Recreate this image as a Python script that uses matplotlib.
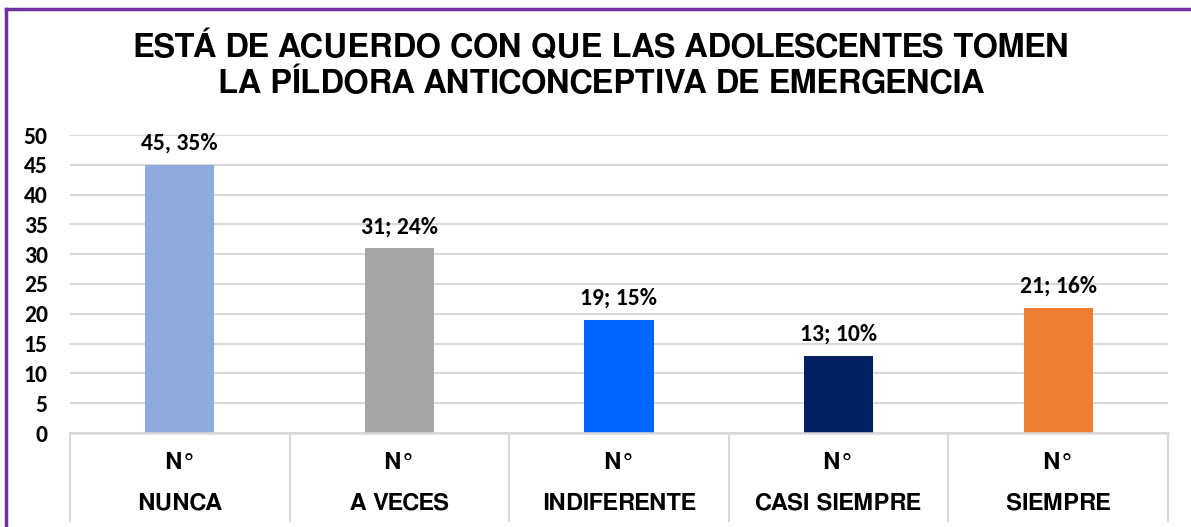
import matplotlib.pyplot as plt
from matplotlib.lines import Line2D

# datos
categorias = ['NUNCA', 'A VECES', 'INDIFERENTE', 'CASI SIEMPRE', 'SIEMPRE']
valores = [45, 31, 19, 13, 21]
etiquetas = ['45, 35%', '31; 24%', '19; 15%', '13; 10%', '21; 16%']
colores = ['#8FAADC', '#A5A5A5', '#0066FF', '#002060', '#ED7D31']
titulo = 'ESTÁ DE ACUERDO CON QUE LAS ADOLESCENTES TOMEN\nLA PÍLDORA ANTICONCEPTIVA DE EMERGENCIA'

fig = plt.figure(figsize=(11.91, 5.27), dpi=100)
ax = fig.add_axes([70/1191, 1-433/527, (1168-70)/1191, 298/527])

x = range(len(categorias))
ax.bar(x, valores, width=0.315, color=colores, zorder=3)

for i, v in enumerate(valores):
    ax.text(i, v + 1.8, etiquetas[i], ha='center', va='bottom', fontsize=17,
            fontweight='bold', family='Carlito')

ax.set_xlim(-0.5, len(categorias) - 0.5)
ax.set_ylim(0, 50)
ax.set_yticks(range(0, 51, 5))
ax.set_yticklabels([str(t) for t in range(0, 51, 5)], fontsize=17,
                   fontweight='bold', family='Carlito')
ax.tick_params(axis='y', length=0, pad=16)
ax.set_xticks([])
ax.grid(axis='y', color='#D9D9D9', linewidth=1.5, zorder=0)
for s in ax.spines.values():
    s.set_visible(False)

# tabla de categorias debajo del eje
tr = ax.get_xaxis_transform()
ax.plot([-0.5, len(categorias) - 0.5], [0, 0], transform=tr, color='#D9D9D9',
        linewidth=1.8, clip_on=False, zorder=4)
for b in range(len(categorias) + 1):
    ax.plot([b - 0.5, b - 0.5], [0, -0.295], transform=tr, color='#D9D9D9',
            linewidth=1.5, clip_on=False)
for i, c in enumerate(categorias):
    ax.text(i, -0.1, 'N°', transform=tr, ha='center', va='center',
            fontsize=17, fontweight='bold', family='FreeSans')
    ax.text(i, -0.237, c, transform=tr, ha='center', va='center',
            fontsize=17, fontweight='bold', family='FreeSans')

fig.text(0.505, 1-66/527, titulo, ha='center', va='center', fontsize=23.5,
         fontweight='bold', family='FreeSans', linespacing=1.22)

# marco morado
fig.add_artist(Line2D([6/1191, 6/1191], [0, 1-9/527], color='#7030A0', linewidth=2.5))
fig.add_artist(Line2D([6/1191, 1], [1-9/527, 1-9/527], color='#7030A0', linewidth=2.5))

fig.savefig('out.png', dpi=100)
